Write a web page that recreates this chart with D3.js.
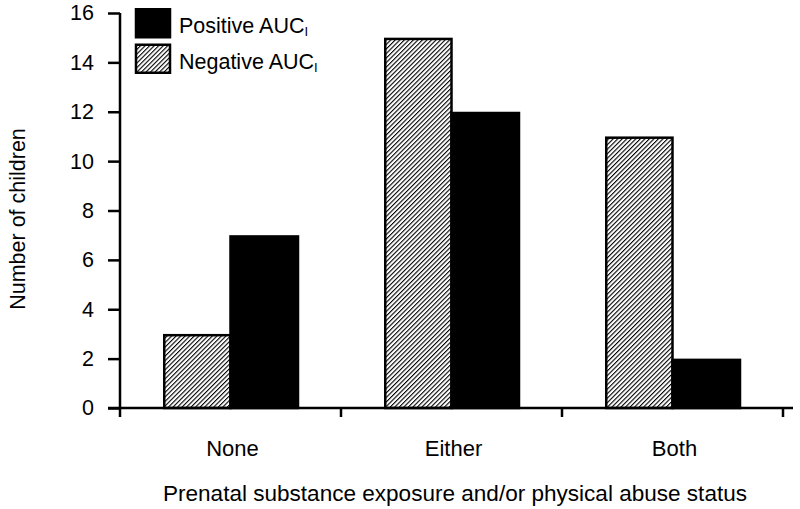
<!DOCTYPE html>
<html><head><meta charset="utf-8">
<script src="https://cdn.jsdelivr.net/npm/d3@7"></script>
<style>body{margin:0;background:#fff}svg{display:block}text{font-family:"Liberation Sans",Arial,sans-serif;fill:#000}</style>
</head><body><svg id="c" width="800" height="509"></svg>
<script>
const categories = ["None", "Either", "Both"];
const seriesNames = ["Negative", "Positive"];
const negativeValues = [3, 15, 11];
const positiveValues = [7, 12, 2];
const yTicks = [0, 2, 4, 6, 8, 10, 12, 14, 16];
const xTitle = "Prenatal substance exposure and/or physical abuse status";
const yTitle = "Number of children";

const svg = d3.select("#c");
const defs = svg.append("defs");
const pat = defs.append("pattern").attr("id","hatch").attr("patternUnits","userSpaceOnUse")
  .attr("width",3.2).attr("height",3.2).attr("patternTransform","rotate(45)");
pat.append("rect").attr("width",3.2).attr("height",3.2).attr("fill","#fff");
pat.append("line").attr("x1",0).attr("y1",0).attr("x2",0).attr("y2",3.2).attr("stroke","#000").attr("stroke-width",2.2);

const x0 = d3.scaleBand().domain(categories).range([120, 783]);
const x1 = d3.scaleBand().domain(seriesNames).range([43, x0.bandwidth()-43]);
const y = d3.scaleLinear().domain([0,16]).range([408, 13]);

// y axis
const ya = svg.append("g").attr("transform","translate(120,0)")
  .call(d3.axisLeft(y).tickValues(yTicks).tickSize(12).tickPadding(14).tickFormat(d3.format("d")));
ya.select(".domain").attr("d", `M0,${y(16)}V${y(0)}`).attr("stroke","#000").attr("stroke-width",2.5);
ya.selectAll(".tick line").attr("stroke","#000").attr("stroke-width",2.5);
ya.selectAll(".tick text").attr("font-size",21.5).attr("font-family","Liberation Sans, Arial, sans-serif");

// bars
const data = categories.map((c,i)=>({c, vals:[{s:"Negative",v:negativeValues[i]},{s:"Positive",v:positiveValues[i]}]}));
const g = svg.append("g");
data.forEach(d=>{
  d.vals.forEach(b=>{
    const isNeg = b.s==="Negative";
    g.append("rect")
      .attr("x", x0(d.c)+x1(b.s)+(isNeg?1.25:0))
      .attr("y", y(b.v)+1.25)
      .attr("width", x1.bandwidth()-(isNeg?1.25:0))
      .attr("height", y(0)-y(b.v)-1.25)
      .attr("fill", isNeg ? "url(#hatch)" : "#000")
      .attr("stroke","#000").attr("stroke-width",2.5);
  });
});

// x axis
const xa = svg.append("g").attr("transform",`translate(0,${y(0)})`);
xa.append("line").attr("x1",108).attr("x2",793).attr("y1",0).attr("y2",0).attr("stroke","#000").attr("stroke-width",2.5);
const bounds = categories.map(c=>x0(c)).concat([x0.range()[1]]);
xa.selectAll("line.t").data(bounds).enter().append("line").attr("class","t")
  .attr("x1",d=>d).attr("x2",d=>d).attr("y1",0).attr("y2",9).attr("stroke","#000").attr("stroke-width",2.5);
xa.selectAll("text").data(categories).enter().append("text")
  .attr("x",d=>x0(d)+x0.bandwidth()/2+2).attr("y",48).attr("text-anchor","middle").attr("font-size",22).text(d=>d);

svg.append("text").attr("x",455).attr("y",501).attr("text-anchor","middle").attr("font-size",22)
  .attr("textLength",584).attr("lengthAdjust","spacingAndGlyphs").text(xTitle);
svg.append("text").attr("transform","translate(25,219) rotate(-90)").attr("text-anchor","middle").attr("font-size",21.5).text(yTitle);

// legend
const leg = svg.append("g");
const legItems = [{label:"Positive AUC", fill:"#000", yy:8},{label:"Negative AUC", fill:"url(#hatch)", yy:43.5}];
legItems.forEach(it=>{
  leg.append("rect").attr("x",136).attr("y",it.yy+1.25).attr("width",34).attr("height",28)
    .attr("fill",it.fill).attr("stroke","#000").attr("stroke-width",2.5);
  const t = leg.append("text").attr("x",179).attr("y",it.yy+25).attr("font-size",21.5);
  t.append("tspan").text(it.label);
  t.append("tspan").attr("font-size",13).attr("dy",3).text("I");
});
</script></body></html>
